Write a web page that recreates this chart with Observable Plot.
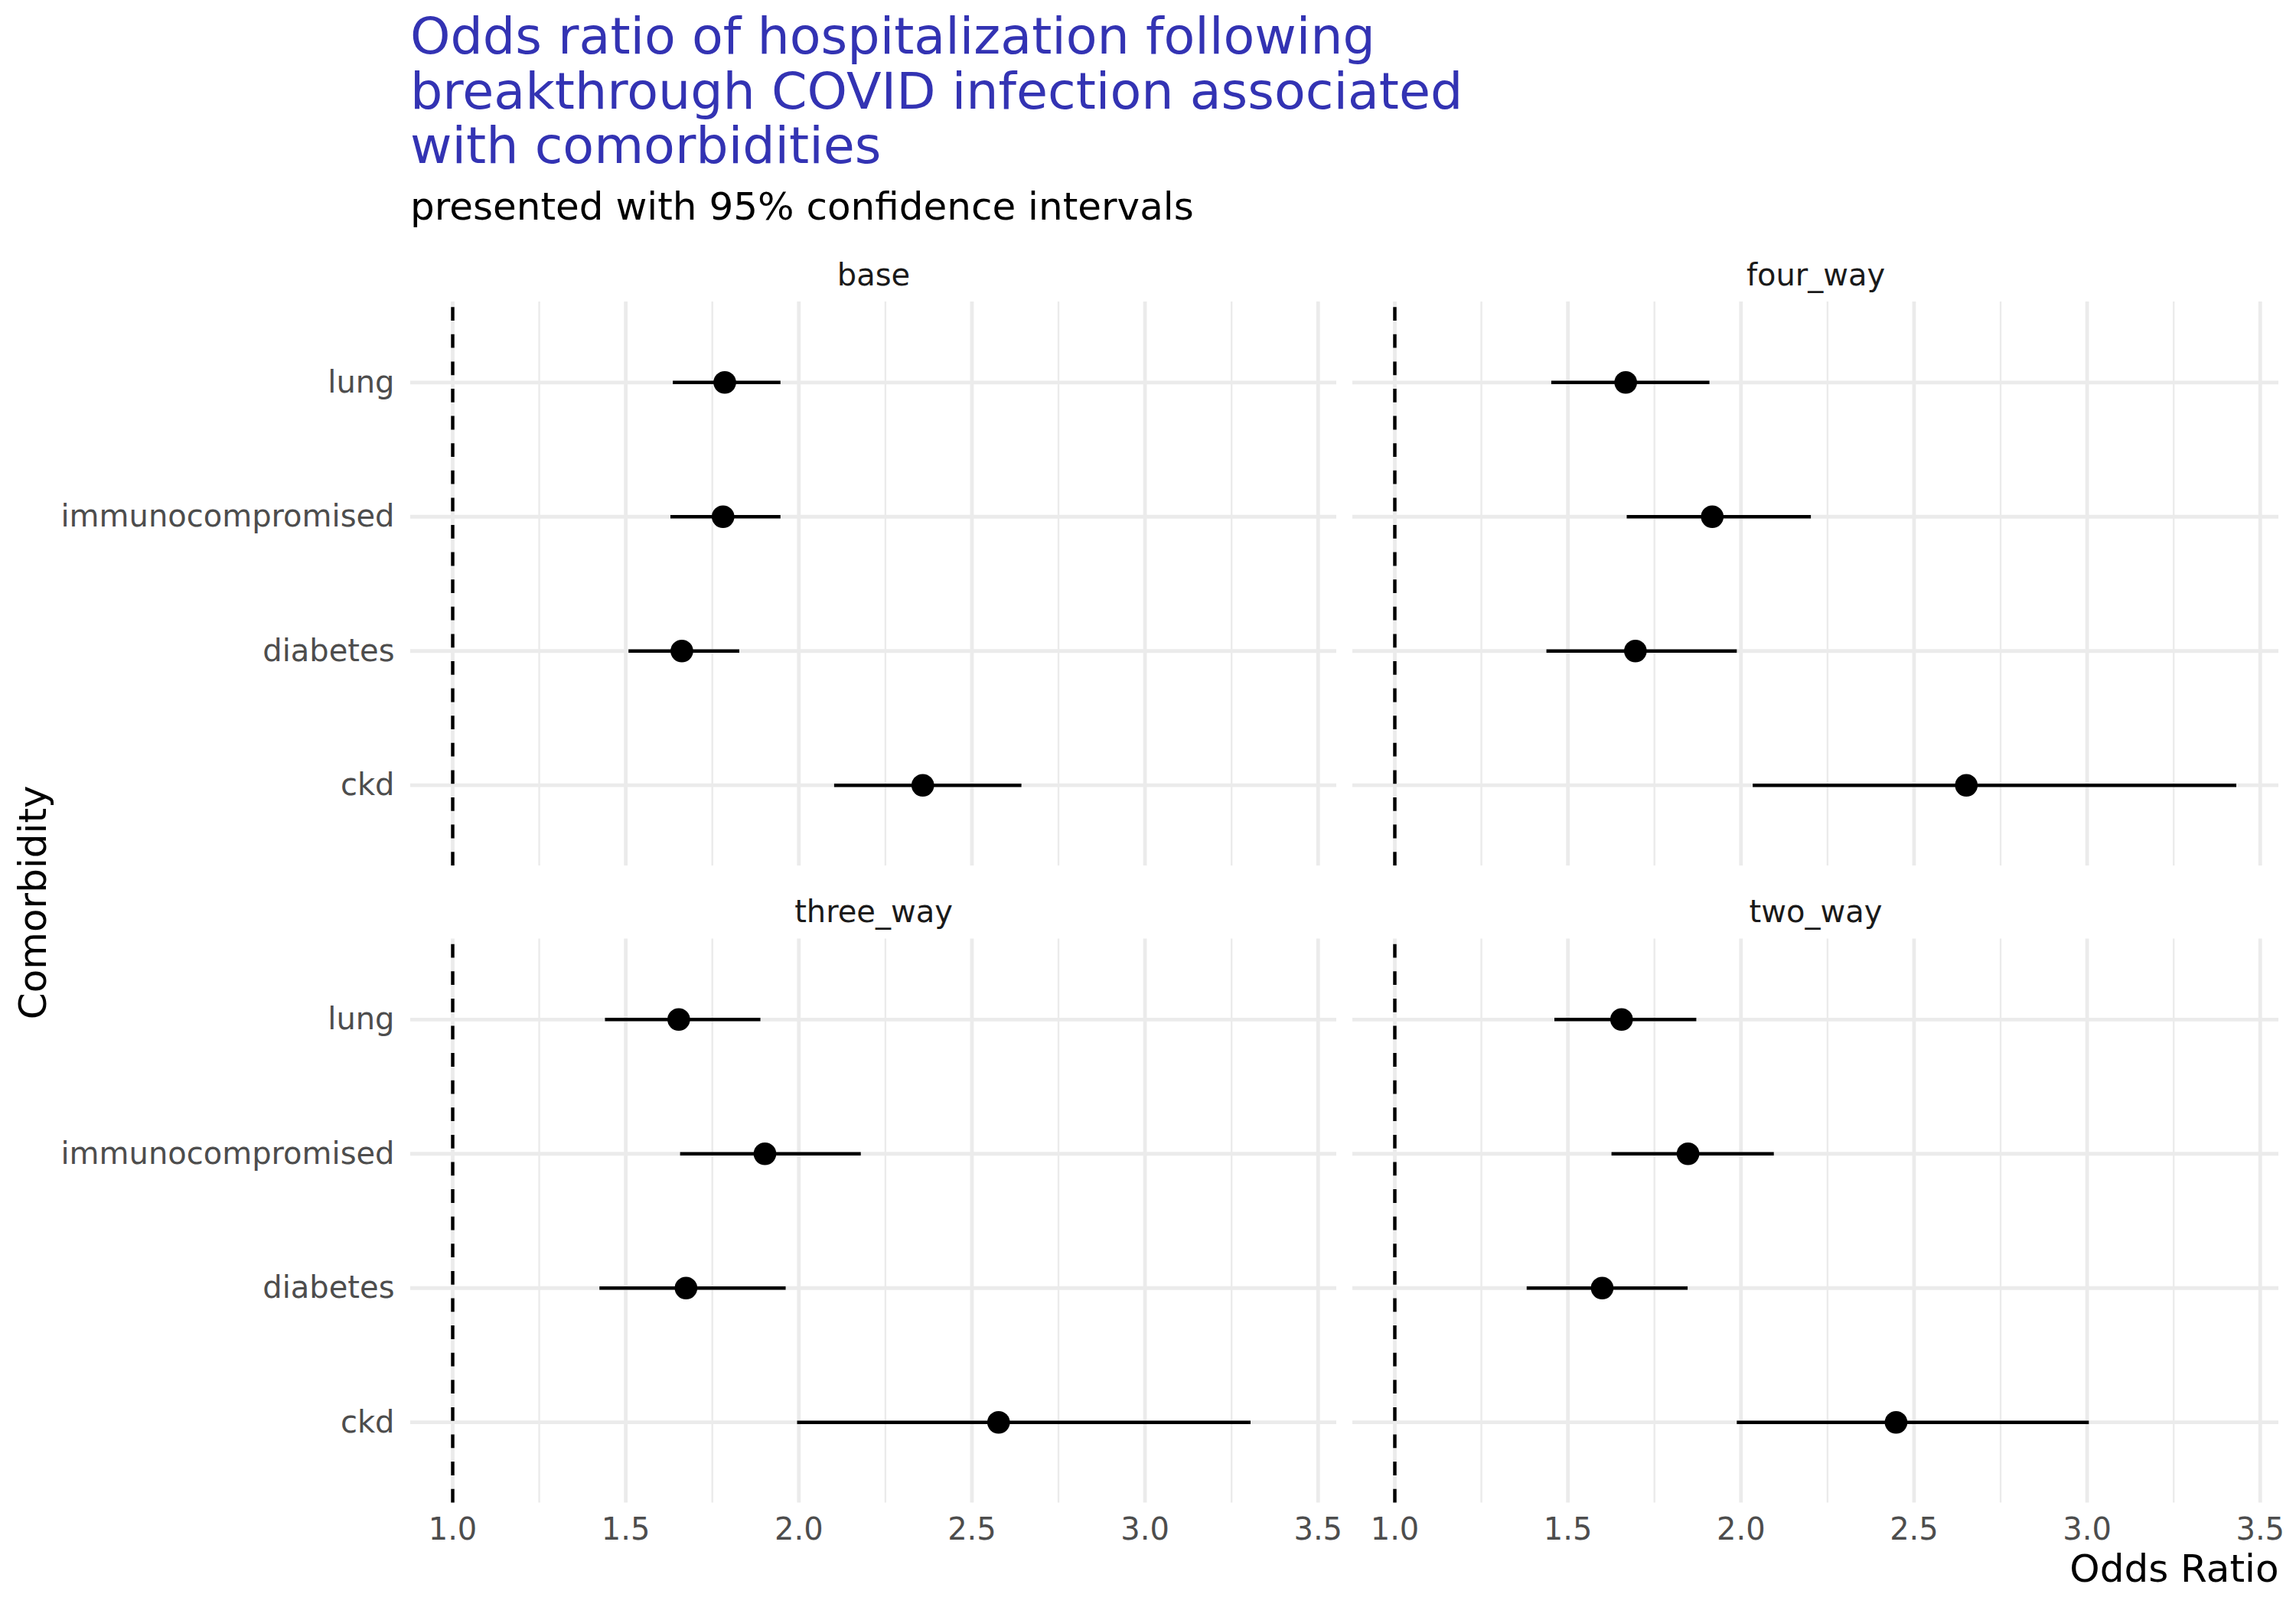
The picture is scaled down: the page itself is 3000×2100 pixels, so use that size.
<!DOCTYPE html>
<html>
<head>
<meta charset="utf-8">
<script src="https://cdn.jsdelivr.net/npm/d3@7"></script>
<script src="https://cdn.jsdelivr.net/npm/@observablehq/plot@0.6"></script>
<style>
  html, body { margin: 0; padding: 0; background: white; }
  #root { position: relative; width: 3000px; height: 2100px; background: white; font-family: "DejaVu Sans", sans-serif; }
  .title { position: absolute; left: 536px; top: 11.8px; font-size: 66.7px; line-height: 71.7px; color: #3333b3; white-space: nowrap; }
  .subtitle { position: absolute; left: 536px; top: 241px; font-size: 50px; line-height: 58px; color: #000; white-space: nowrap; }
  #chart { position: absolute; left: 0; top: 300px; }
</style>
</head>
<body>
<div id="root">
  <div class="title">Odds ratio of hospitalization following<br>breakthrough COVID infection associated<br>with comorbidities</div>
  <div class="subtitle">presented with 95% confidence intervals</div>
  <div id="chart"></div>
</div>
<script>
// ---- data ----
const comorbidities = ["lung", "immunocompromised", "diabetes", "ckd"];
const models = ["base", "four_way", "three_way", "two_way"];

const orBase = [1.786, 1.781, 1.662, 2.358];
const lowBase = [1.637, 1.630, 1.509, 2.103];
const highBase = [1.948, 1.948, 1.829, 2.644];

const orFourWay = [1.667, 1.917, 1.695, 2.651];
const lowFourWay = [1.453, 1.671, 1.439, 2.035];
const highFourWay = [1.910, 2.203, 1.989, 3.432];

const orThreeWay = [1.653, 1.902, 1.674, 2.577];
const lowThreeWay = [1.441, 1.658, 1.425, 1.996];
const highThreeWay = [1.890, 2.180, 1.963, 3.306];

const orTwoWay = [1.655, 1.847, 1.599, 2.448];
const lowTwoWay = [1.462, 1.627, 1.382, 1.989];
const highTwoWay = [1.872, 2.096, 1.847, 3.006];

const xTicks = [1.0, 1.5, 2.0, 2.5, 3.0, 3.5];
const xMinorTicks = [1.25, 1.75, 2.25, 2.75, 3.25];
const referenceOR = 1;

const xLabel = "Odds Ratio";
const yLabel = "Comorbidity";

// ---- build table ----
const seriesOR = [orBase, orFourWay, orThreeWay, orTwoWay];
const seriesLow = [lowBase, lowFourWay, lowThreeWay, lowTwoWay];
const seriesHigh = [highBase, highFourWay, highThreeWay, highTwoWay];

const rows = [];
models.forEach((m, i) => {
  comorbidities.forEach((c, j) => {
    rows.push({model: m, col: i % 2, row: Math.floor(i / 2), comorbidity: c,
               or: seriesOR[i][j], low: seriesLow[i][j], high: seriesHigh[i][j]});
  });
});
const strips = models.map((m, i) => ({model: m, col: i % 2, row: Math.floor(i / 2)}));

// ggplot-like continuous expansion (5%) including the reference line
const lo = Math.min(referenceOR, d3.min(rows, d => d.low));
const hi = Math.max(referenceOR, d3.max(rows, d => d.high));
const pad = (hi - lo) * 0.05;
const xDomain = [lo - pad, hi + pad];

const chart = Plot.plot({
  width: 3000,
  height: 1800,
  marginTop: 94,
  marginBottom: 136.5,
  marginLeft: 536,
  marginRight: 23,
  style: {fontFamily: "DejaVu Sans", background: "white", overflow: "visible"},
  fx: {domain: [0, 1], paddingInner: 0.01706, paddingOuter: 0, round: false, axis: null},
  fy: {domain: [0, 1], paddingInner: 0.11471, paddingOuter: 0, round: false, axis: null},
  x: {domain: xDomain, axis: null},
  y: {type: "point", domain: comorbidities, padding: 0.6, round: false, axis: null},
  marks: [
    Plot.ruleX(xMinorTicks, {stroke: "#ebebeb", strokeWidth: 2.4}),
    Plot.ruleX(xTicks, {stroke: "#ebebeb", strokeWidth: 4.8}),
    Plot.ruleY(comorbidities, {stroke: "#ebebeb", strokeWidth: 4.8}),
    Plot.ruleX([referenceOR], {stroke: "black", strokeWidth: 4.45, strokeDasharray: "17.8,17.8", strokeDashoffset: 28.4}),
    Plot.ruleY(rows, {fx: "col", fy: "row", y: "comorbidity", x1: "low", x2: "high", stroke: "black", strokeWidth: 4.45}),
    Plot.dot(rows, {fx: "col", fy: "row", x: "or", y: "comorbidity", r: 14.8, fill: "black", stroke: "none"}),
    Plot.axisX({ticks: xTicks, tickFormat: d => d.toFixed(1), tickSize: 0, tickPadding: 20,
                fontSize: 40, color: "#4d4d4d", label: null, facetAnchor: "bottom"}),
    Plot.axisY({ticks: comorbidities, tickSize: 0, tickPadding: 21,
                fontSize: 40, color: "#4d4d4d", label: null, facetAnchor: "left"}),
    Plot.text(strips, {fx: "col", fy: "row", text: "model", frameAnchor: "top", textAnchor: "middle",
                       lineAnchor: "bottom", dy: -21.7, fontSize: 40, fill: "#1a1a1a"}),
    Plot.text([xLabel], {fx: () => 1, fy: () => 1, text: d => d, frameAnchor: "bottom-right", textAnchor: "end",
                         lineAnchor: "bottom", dy: 103.2, fontSize: 50, fill: "black"}),
    Plot.text([yLabel], {fx: () => 0, fy: () => 0, text: d => d, frameAnchor: "bottom-left", textAnchor: "middle",
                         lineAnchor: "bottom", rotate: -90, dx: -476.7, dy: 47.8, fontSize: 50, fill: "black"})
  ]
});
document.getElementById("chart").appendChild(chart);
</script>
</body>
</html>
